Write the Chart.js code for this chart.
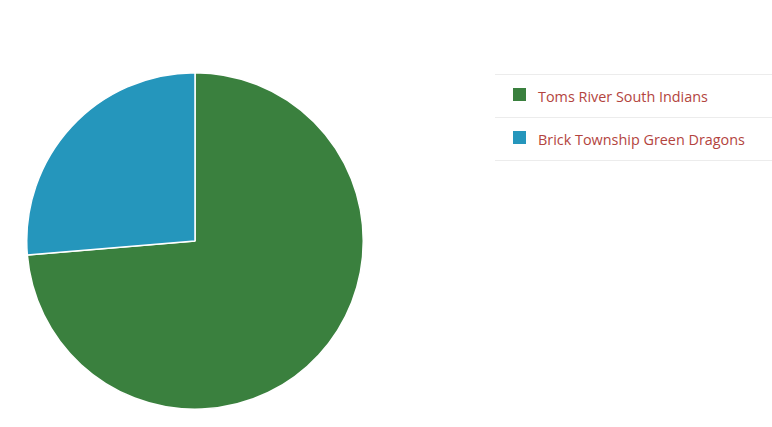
<!DOCTYPE html>
<html>
<head>
<meta charset="utf-8">
<script src="https://cdn.jsdelivr.net/npm/chart.js@4.4.4/dist/chart.umd.min.js"></script>
<style>
  html, body { margin: 0; padding: 0; background: #fff; }
  body { width: 772px; height: 427px; position: relative; overflow: hidden; font-family: "Open Sans", sans-serif; }
  #pieBox { position: absolute; left: 26px; top: 72px; width: 338px; height: 338px; }
  #legend { position: absolute; left: 495px; top: 74px; width: 277px; }
  #legend ul { list-style: none; margin: 0; padding: 0; }
  #legend li { height: 42px; border-top: 1px solid #ececec; display: flex; align-items: center; font-size: 14.4px; color: #b3443e; }
  #legend li:last-child { border-bottom: 1px solid #ececec; }
  #legend .box { width: 13px; height: 13px; margin-left: 18px; margin-right: 12px; margin-top: -3px; flex: none; }
</style>
</head>
<body>
<div id="pieBox"><canvas id="pie"></canvas></div>
<div id="legend"></div>
<script>
const teams = ['Toms River South Indians', 'Brick Township Green Dragons'];
const wins = [14, 5];
const teamColors = ['#3a803e', '#2596bc'];

const htmlLegend = {
  id: 'htmlLegend',
  afterUpdate(chart) {
    const box = document.getElementById('legend');
    box.innerHTML = '';
    const ul = document.createElement('ul');
    chart.options.plugins.legend.labels.generateLabels(chart).forEach(item => {
      const li = document.createElement('li');
      const sq = document.createElement('span');
      sq.className = 'box';
      sq.style.background = item.fillStyle;
      const txt = document.createElement('span');
      txt.textContent = item.text;
      li.appendChild(sq);
      li.appendChild(txt);
      ul.appendChild(li);
    });
    box.appendChild(ul);
  }
};

new Chart(document.getElementById('pie'), {
  type: 'pie',
  data: {
    labels: teams,
    datasets: [{
      data: wins,
      backgroundColor: teamColors,
      borderColor: '#ffffff',
      borderWidth: 1.5
    }]
  },
  options: {
    responsive: true,
    maintainAspectRatio: false,
    animation: false,
    layout: { padding: 0 },
    plugins: {
      legend: { display: false },
      tooltip: { enabled: true }
    }
  },
  plugins: [htmlLegend]
});
</script>
</body>
</html>
